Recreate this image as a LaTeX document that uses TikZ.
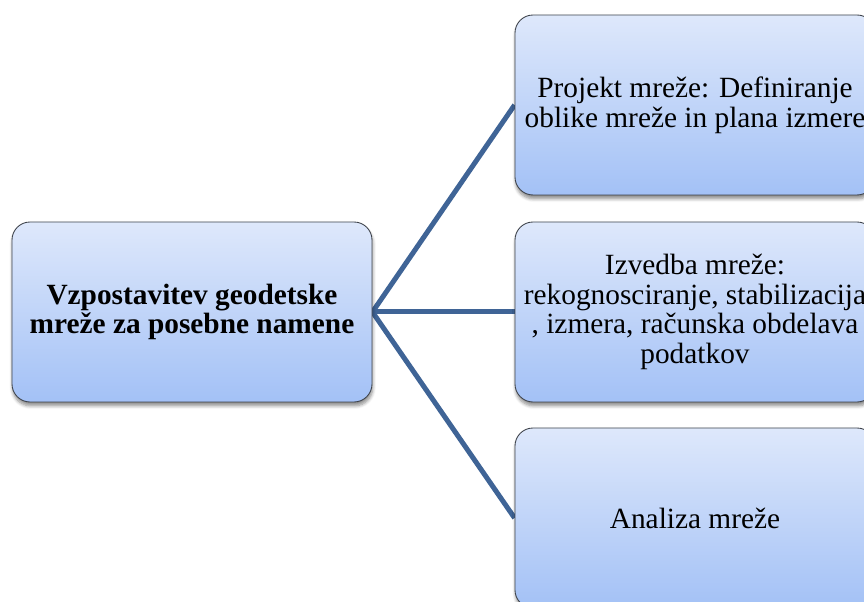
\documentclass[tikz,border=0pt]{standalone}
\usepackage{fontspec}
\setmainfont{Liberation Serif}
\usepackage{tikz}
\usetikzlibrary{calc,backgrounds,shadows.blur}
\definecolor{boxtop}{HTML}{DEE8FB}
\definecolor{boxbottom}{HTML}{A3C1F6}
\definecolor{boxline}{HTML}{3F444C}
\definecolor{linkblue}{HTML}{3F6496}

\begin{document}
\begin{tikzpicture}[
  box/.style={draw=boxline, line width=0.5pt, rounded corners=0.36cm,
    top color=boxtop, bottom color=boxbottom,
    minimum width=7.2cm, minimum height=3.6cm, inner sep=0pt, align=center,
    font=\fontsize{16.7}{16.9}\selectfont,
    blur shadow={shadow xshift=0.4pt, shadow yshift=-2.2pt, shadow blur steps=6, shadow opacity=45}},
  link/.style={draw=linkblue, line width=0.1cm}
]
\useasboundingbox (0,0) rectangle (17.28,12.04);
\clip (0,0) rectangle (17.28,12.04);
\node[box] (main) at (3.84,5.8) {\textbf{Vzpostavitev geodetske}\\ \textbf{mreže za posebne namene}};
\node[box] (projekt) at (13.9,9.94) {Projekt mreže: Definiranje\\ oblike mreže in plana izmere};
\node[box] (izvedba) at (13.9,5.8) {Izvedba mreže:\\ rekognosciranje, stabilizacija\\ , izmera, računska obdelava\\ podatkov};
\node[box] (analiza) at (13.9,1.68) {Analiza mreže};
% connectors behind the boxes
\begin{scope}[on background layer]
\draw[link] (main.east) -- (projekt.west);
\draw[link] (main.east) -- (izvedba.west);
\draw[link] (main.east) -- (analiza.west);
\end{scope}
\end{tikzpicture}
\end{document}
